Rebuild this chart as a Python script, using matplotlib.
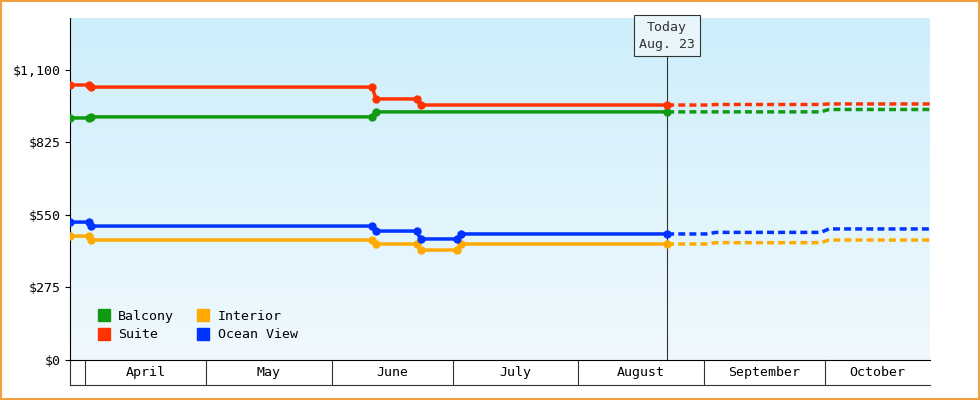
import matplotlib.pyplot as plt
import numpy as np
from matplotlib.lines import Line2D

plt.rcParams['font.family'] = 'DejaVu Sans Mono'

# days counted from April 1
months = ["April", "May", "June", "July", "August", "September", "October"]
month_starts = [0, 30, 61, 91, 122, 153, 183]
x_min, x_max = -3.7, 209
today = 144

names = ["Balcony", "Suite", "Interior", "Ocean View"]
colors = ["#119911", "#ff3300", "#ffaa00", "#0033ff"]

hist_x = {
    "Suite":      [-3.7, 1, 1.5, 71, 72, 82, 83, 144],
    "Balcony":    [-3.7, 1, 1.5, 71, 72, 144],
    "Ocean View": [-3.7, 1, 1.5, 71, 72, 82, 83, 92, 93, 144],
    "Interior":   [-3.7, 1, 1.5, 71, 72, 82, 83, 92, 93, 144],
}
hist_y = {
    "Suite":      [1043, 1043, 1035, 1035, 990, 990, 967, 967],
    "Balcony":    [918, 918, 922, 922, 941, 941],
    "Ocean View": [523, 523, 508, 508, 489, 489, 459, 459, 478, 478],
    "Interior":   [470, 470, 455, 455, 440, 440, 417, 417, 440, 440],
}
fc_x = [144, 154, 156, 182, 184, 209]
fc_y = {
    "Suite":      [967, 967, 969, 969, 971, 971],
    "Balcony":    [941, 941, 941, 941, 950, 950],
    "Ocean View": [478, 478, 484, 484, 497, 497],
    "Interior":   [440, 440, 445, 445, 455, 455],
}

fig = plt.figure(figsize=(9.8, 4), dpi=100)
fig.patch.set_facecolor("white")
fig.patches.append(plt.Rectangle((0.001, 0.002), 0.998, 0.996, transform=fig.transFigure,
                                 fill=False, edgecolor="#f0a040", linewidth=1.5))
ax = fig.add_axes([70 / 980, 40 / 400, 860 / 980, 342 / 400])
ax.set_xlim(x_min, x_max)
ax.set_ylim(0, 1297)

grad = np.linspace(0, 1, 256).reshape(-1, 1)
from matplotlib.colors import LinearSegmentedColormap
cmap = LinearSegmentedColormap.from_list("bg", ["#f0f9fe", "#cdeefb"])
ax.imshow(grad, aspect="auto", cmap=cmap, origin="lower",
          extent=[x_min, x_max, 0, 1297], zorder=0)

for n, c in zip(names, colors):
    ax.plot(hist_x[n], hist_y[n], color=c, lw=2.5, marker="o", ms=5, zorder=3)
    ax.plot(fc_x, fc_y[n], color=c, lw=2.5, ls=(0, (2, 1.2)), zorder=3)

ax.axvline(today, color="#333333", lw=0.8, zorder=2)
ax.text(today, 1230, "Today\nAug. 23", ha="center", va="center", fontsize=9.5,
        color="#333333", linespacing=1.4,
        bbox=dict(boxstyle="square,pad=0.4", fc="#e8f6fc", ec="#333333", lw=0.8), zorder=5)

ax.set_yticks([0, 275, 550, 825, 1100])
ax.set_yticklabels(["$0", "$275", "$550", "$825", "$1,100"], fontsize=9.5)
ax.set_xticks([])
for s in ["top", "right"]:
    ax.spines[s].set_visible(False)

# month boxes below the axis
trans = ax.get_xaxis_transform()
box_bottom = -25 / 342
for m in month_starts:
    ax.add_line(Line2D([m, m], [0, box_bottom], transform=trans, color="#333333", lw=0.8, clip_on=False))
ax.add_line(Line2D([x_min, x_max], [box_bottom, box_bottom], transform=trans, color="#333333", lw=0.8, clip_on=False))
ax.add_line(Line2D([x_min, x_min], [0, box_bottom], transform=trans, color="#333333", lw=0.8, clip_on=False))
ends = month_starts[1:] + [x_max]
for name, a, b in zip(months, month_starts, ends):
    ax.text((a + b) / 2, box_bottom / 2, name, transform=trans, ha="center", va="center", fontsize=9.5)

handles = [Line2D([], [], marker="s", ls="", color=c, ms=8) for c in colors]
ax.legend(handles, names, ncol=2, loc="lower left", frameon=False, fontsize=9.5,
          handletextpad=0.1, columnspacing=1.2, labelspacing=0.4, bbox_to_anchor=(0.01, 0.02))

fig.savefig("out.png", dpi=100)
